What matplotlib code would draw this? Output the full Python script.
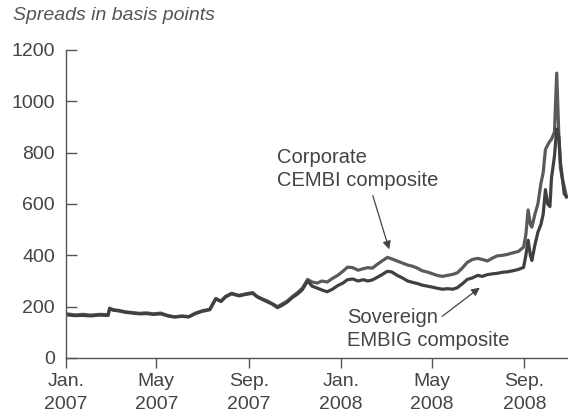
import pandas as pd
import matplotlib
matplotlib.use("Agg")
import matplotlib.pyplot as plt

plt.rcParams['font.family'] = ['Liberation Sans', 'DejaVu Sans']

dates = ["2007-01-02", "2007-01-13", "2007-01-24", "2007-02-03", "2007-02-14", "2007-02-26",
         "2007-02-28", "2007-03-05", "2007-03-11", "2007-03-21", "2007-03-30", "2007-04-09",
         "2007-04-18", "2007-04-27", "2007-05-07", "2007-05-16", "2007-05-25", "2007-06-04",
         "2007-06-13", "2007-06-22", "2007-07-01", "2007-07-11", "2007-07-19", "2007-07-26",
         "2007-08-01", "2007-08-09", "2007-08-19", "2007-08-28", "2007-09-06", "2007-09-12",
         "2007-09-19", "2007-09-26", "2007-10-02", "2007-10-09", "2007-10-15", "2007-10-22",
         "2007-10-29", "2007-11-05", "2007-11-11", "2007-11-18", "2007-11-24", "2007-12-01",
         "2007-12-07", "2007-12-14", "2007-12-21", "2007-12-28", "2008-01-04", "2008-01-10",
         "2008-01-17", "2008-01-24", "2008-01-31", "2008-02-06", "2008-02-12", "2008-02-19",
         "2008-02-25", "2008-03-03", "2008-03-09", "2008-03-16", "2008-03-23", "2008-03-30",
         "2008-04-05", "2008-04-12", "2008-04-18", "2008-04-25", "2008-05-02", "2008-05-08",
         "2008-05-15", "2008-05-22", "2008-05-29", "2008-06-04", "2008-06-11", "2008-06-17",
         "2008-06-24", "2008-07-01", "2008-07-07", "2008-07-14", "2008-07-21", "2008-07-27",
         "2008-08-03", "2008-08-10", "2008-08-17", "2008-08-24", "2008-08-31", "2008-09-03",
         "2008-09-06", "2008-09-09", "2008-09-11", "2008-09-15", "2008-09-19", "2008-09-23",
         "2008-09-26", "2008-09-29", "2008-10-02", "2008-10-05", "2008-10-07", "2008-10-11",
         "2008-10-14", "2008-10-17", "2008-10-19", "2008-10-22", "2008-10-24", "2008-10-27"]

corporate = [172, 168, 170, 167, 170, 169,
             194, 188, 186, 180, 177, 174,
             176, 172, 175, 166, 160, 164,
             161, 175, 184, 190, 232, 222,
             240, 252, 244, 250, 255, 240,
             230, 222, 212, 200, 210, 222,
             240, 256, 272, 306, 296, 292,
             300, 296, 310, 322, 338, 354,
             352, 342, 348, 352, 350, 366,
             378, 392, 386, 378, 370, 362,
             358, 350, 340, 335, 328, 322,
             318, 322, 326, 332, 352, 372,
             384, 388, 384, 378, 390, 398,
             400, 404, 410, 415, 432, 480,
             577, 520, 510, 560, 600, 680,
             722, 812, 830, 845, 852, 880,
             1110, 852, 740, 690, 668, 628]

sovereign = [168, 165, 166, 164, 167, 166,
             192, 186, 184, 178, 175, 172,
             173, 170, 172, 164, 160, 162,
             160, 173, 182, 188, 230, 220,
             238, 250, 242, 248, 252, 238,
             228, 218, 210, 196, 205, 218,
             236, 250, 266, 300, 280, 272,
             265, 258, 268, 282, 292, 305,
             308, 300, 305, 300, 304, 315,
             325, 338, 335, 322, 312, 300,
             295, 290, 284, 280, 276, 272,
             268, 270, 268, 274, 290, 306,
             312, 322, 318, 325, 328, 330,
             334, 336, 340, 345, 353, 400,
             459, 400, 380, 440, 490, 520,
             560, 656, 600, 590, 700, 786,
             892, 860, 760, 690, 640, 628]

tick_dates = ["2007-01-01", "2007-05-01", "2007-09-01", "2008-01-01", "2008-05-01", "2008-09-01"]
tick_labels = ["Jan.\n2007", "May\n2007", "Sep.\n2007", "Jan.\n2008", "May\n2008", "Sep.\n2008"]
y_ticks = [0, 200, 400, 600, 800, 1000, 1200]

d = pd.to_datetime(dates)
W, H = 568, 418
fig = plt.figure(figsize=(W / 100, H / 100), dpi=100)
ax = fig.add_axes([66 / W, 60 / H, 1 - 66 / W, 308 / H])

ax.plot(d, corporate, color='#5a5a5a', lw=2.3, solid_joinstyle='round')
ax.plot(d, sovereign, color='#404040', lw=2.3, solid_joinstyle='round')

ax.set_xlim(pd.Timestamp("2007-01-01"), pd.Timestamp("2008-10-29"))
ax.set_ylim(0, 1200)
ax.set_yticks(y_ticks)
ax.set_xticks(pd.to_datetime(tick_dates))
ax.set_xticklabels(tick_labels, linespacing=1.45)

txt = '#444444'
for s in ['top', 'right']:
    ax.spines[s].set_visible(False)
for s in ['left', 'bottom']:
    ax.spines[s].set_color('#555555')
    ax.spines[s].set_linewidth(1.0)
ax.tick_params(axis='y', direction='in', length=8, width=1.0, color='#555555',
               pad=8, labelsize=14, labelcolor=txt)
ax.tick_params(axis='x', direction='out', length=7, width=1.0, color='#555555',
               pad=4, labelsize=14, labelcolor=txt)

fig.text(13 / W, 1 - 15 / H, "Spreads in basis points", style='italic',
         fontsize=14, color='#555555', va='center', ha='left')

ax.annotate("Corporate\nCEMBI composite", xy=(277, H - 169), xycoords='figure pixels',
            fontsize=14.5, color=txt, ha='left', va='center', linespacing=1.25)
ax.annotate("", xy=(390, H - 252), xycoords='figure pixels',
            xytext=(372, H - 193), textcoords='figure pixels',
            arrowprops=dict(arrowstyle='-|>', color='#444444', lw=0.9, mutation_scale=12))

ax.annotate("Sovereign\nEMBIG composite", xy=(347, H - 329), xycoords='figure pixels',
            fontsize=14.5, color=txt, ha='left', va='center', linespacing=1.25)
ax.annotate("", xy=(482, H - 286), xycoords='figure pixels',
            xytext=(440, H - 318), textcoords='figure pixels',
            arrowprops=dict(arrowstyle='-|>', color='#444444', lw=0.9, mutation_scale=12))

fig.savefig("out.png", dpi=100)
